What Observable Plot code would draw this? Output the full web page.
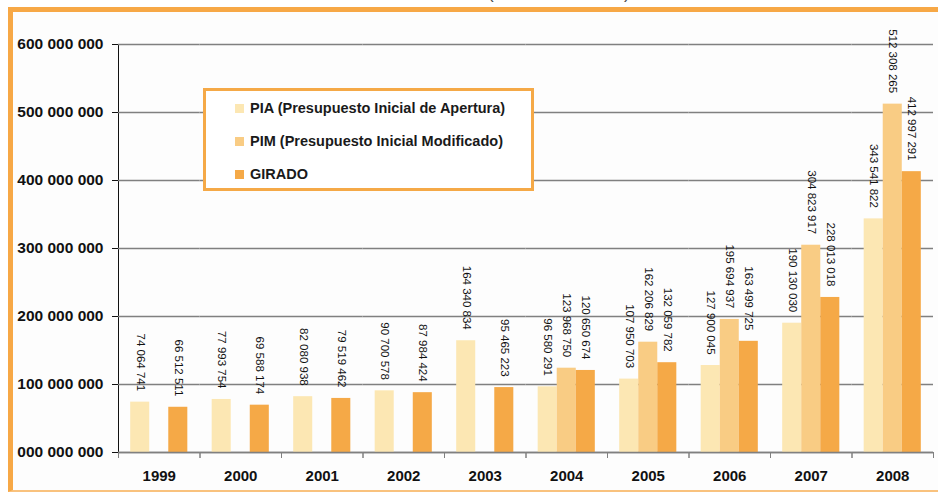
<!DOCTYPE html>
<html><head><meta charset="utf-8">
<script src="https://cdn.jsdelivr.net/npm/d3@7"></script>
<script src="https://cdn.jsdelivr.net/npm/@observablehq/plot@0.6"></script>
<style>
html,body{margin:0;padding:0;background:#fff;}
body{width:938px;height:492px;position:relative;overflow:hidden;font-family:"Liberation Sans",Arial,sans-serif;}
#title{position:absolute;left:488px;top:-15px;font-size:17px;line-height:17px;color:#444;white-space:nowrap;}
#frame{position:absolute;left:8px;top:7px;width:940px;height:485px;box-sizing:border-box;border-left:5px solid #F7A846;border-top:5px solid #F7A846;border-bottom:2px solid #F9C27E;background:#fdfdfd;}
#chart{position:absolute;left:0;top:0;}
#legend{position:absolute;left:203px;top:88px;width:331px;height:103px;box-sizing:border-box;border:3px solid #F5A947;background:#fff;}
.item{position:absolute;left:29px;display:flex;align-items:center;font-family:"Liberation Sans",Arial,sans-serif;font-weight:bold;font-size:14.5px;color:#1a1a1a;white-space:nowrap;height:20px;}
.sw{width:9px;height:9px;margin-right:6px;flex:none;}
g[aria-label="y-axis tick label"] text{font-weight:bold;font-size:15.5px;}
</style>
</head><body>
<div id="title">(En Nuevos Soles)</div>
<div id="frame"></div>
<div id="chart"></div>
<div id="legend"></div>
<script>
const years = ["1999","2000","2001","2002","2003","2004","2005","2006","2007","2008"];
const seriesKeys = ["PIA","PIM","GIRADO"];
const seriesLabels = ["PIA (Presupuesto Inicial de Apertura)","PIM (Presupuesto Inicial Modificado)","GIRADO"];
const seriesColors = ["#FCE7B3","#F9CC84","#F5A947"];
const pia = [74064741,77993754,82080938,90700578,164340834,96580291,107950703,127900045,190130030,343541822];
const pim = [null,null,null,null,null,123968750,162206829,195694937,304823917,512308265];
const girado = [66512511,69588174,79519462,87984424,95465223,120650674,132059782,163499725,228013018,412997291];
const yTicks = [0,100000000,200000000,300000000,400000000,500000000,600000000];
const yTickLabels = ["000 000 000","100 000 000","200 000 000","300 000 000","400 000 000","500 000 000","600 000 000"];

const valuesBySeries = [pia, pim, girado];
const rows = [];
years.forEach((yr, i) => {
  seriesKeys.forEach((s, k) => {
    const v = valuesBySeries[k][i];
    if (v != null) rows.push({year: yr, series: s, value: v});
  });
});
const fmt = d => d3.format(",")(d).replace(/,/g, " ");

const W = 938, H = 492, ML = 118, MR = 5, MT = 44, MB = 40;
const step = (W - ML - MR) / years.length;

const chart = Plot.plot({
  width: W, height: H,
  marginLeft: ML, marginRight: MR, marginTop: MT, marginBottom: MB,
  style: {background: "transparent", fontFamily: "'Liberation Sans', Arial, sans-serif", overflow: "visible", color: "#111"},
  fx: {domain: years, padding: 0, round: false, label: null},
  x: {domain: seriesKeys, paddingInner: 0, paddingOuter: 0.64, round: false, axis: null},
  y: {domain: [0, 600000000], ticks: yTicks, tickFormat: d => yTickLabels[yTicks.indexOf(d)], tickSize: 6, tickPadding: 9, line: true, label: null},
  color: {domain: seriesKeys, range: seriesColors},
  marks: [
    Plot.gridY(yTicks, {stroke: "#808080", strokeOpacity: 1, strokeWidth: 1.3}),
    Plot.barY(rows, {fx: "year", x: "series", y: "value", fill: "series"}),
    Plot.ruleY([0], {stroke: "#808080", strokeWidth: 1.5}),
    Plot.text(rows, {fx: "year", x: "series", y: "value", text: d => fmt(d.value), rotate: 90, textAnchor: "end", dy: -11, fontSize: 11.5, fill: "#111"}),
    Plot.axisFx({anchor: "bottom", tickSize: 0, tickPadding: 18, fontSize: 15, fontWeight: "bold", fill: "#111", label: null}),
    Plot.axisFx({anchor: "bottom", tickSize: 6, tickFormat: () => "", stroke: "#808080", dx: -step / 2, label: null}),
    Plot.axisFx([years[years.length - 1]], {anchor: "bottom", tickSize: 6, tickFormat: () => "", stroke: "#808080", dx: step / 2, label: null})
  ]
});
document.getElementById("chart").appendChild(chart);

const legend = d3.select("#legend");
seriesLabels.forEach((lab, k) => {
  const it = legend.append("div").attr("class", "item").style("top", (7 + k * 33) + "px");
  it.append("div").attr("class", "sw").style("background", seriesColors[k]);
  it.append("span").text(lab);
});
</script>
</body></html>
